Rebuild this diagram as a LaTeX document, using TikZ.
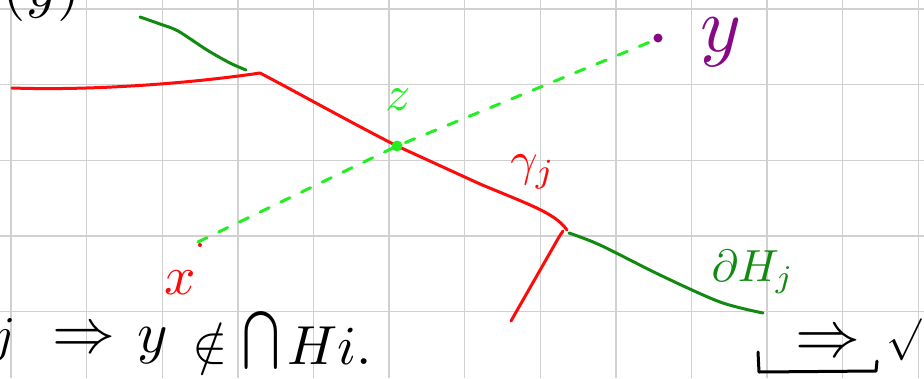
\documentclass[tikz,border=0pt]{standalone}
\usepackage{amssymb}
\definecolor{gridgray}{HTML}{D0D0D0}
\definecolor{inkred}{HTML}{FF0A0A}
\definecolor{inkgreen}{HTML}{128A12}
\definecolor{inklime}{HTML}{22EE22}
\definecolor{inkpurple}{HTML}{860A86}
\begin{document}
\begin{tikzpicture}[x=1pt,y=-1pt,
  gridline/.style={draw=gridgray,line width=1.4pt},
  ink/.style={line width=3pt,line cap=round,line join=round},
  lbl/.style={inner sep=0pt,outer sep=0pt}]
\useasboundingbox[fill=white] (0,0) rectangle (924,378);
% grid
\foreach \k in {0,...,12} \draw[gridline] (11+75.6*\k,0) -- (11+75.6*\k,378);
\foreach \k in {0,...,4} \draw[gridline] (0,9+75.6*\k) -- (924,9+75.6*\k);
% key points
\coordinate (rA) at (12,88);
\coordinate (rB) at (260,73);
\coordinate (zz) at (397,146);
\coordinate (rC) at (567,230);
\coordinate (rD) at (511,321);
\coordinate (gA) at (140,17);
\coordinate (gB) at (246,70);
\coordinate (gC) at (569,233);
\coordinate (gD) at (763,313);
\coordinate (xx) at (198,242);
\coordinate (yy) at (658,38);
% red curve gamma_j
\draw[ink,inkred] (rA) .. controls (100,91) and (200,82) .. (rB)
  .. controls (300,94) and (350,122) .. (zz)
  -- (480,184) .. controls (530,205) and (555,213) .. (rC);
\draw[ink,inkred] (rD) -- (559,237) -- (563,231);
% dark green boundary pieces
\draw[ink,inkgreen] plot[smooth] coordinates {(gA) (160,24) (178,31) (207,50) (230,63) (gB)};
\draw[ink,inkgreen] plot[smooth] coordinates {(gC) (600,245) (660,275) (720,302) (gD)};
% dashed segment x--y
\draw[ink,inklime,dash pattern=on 10pt off 13pt] (xx) -- (zz) -- (650,42);
\fill[inklime] (zz) circle (5.5);
\fill[inkpurple] (yy) circle (4.5);
\fill[inkred] (200,245) circle (2);
% labels
\node[lbl,inkred,scale=5.5] (lx) at (180,283) {$x$};
\node[lbl,inklime,scale=5] (lz) at (398,100) {$z$};
\node[lbl,inkpurple,scale=7.8] (ly) at (721,42) {$y$};
\node[lbl,inkred,scale=4.8] (lg) at (533,172) {$\gamma_j$};
\node[lbl,inkgreen,scale=4.5] (lh) at (753,272) {$\partial H_j$};
% top-left partial
\node[lbl,scale=6] (tl) at (42,-9) {$(y)$};
% bottom line
\node[lbl,scale=5] (bj) at (4,340) {$j$};
\node[lbl,scale=6.3] (b1) at (84,341) {$\Rightarrow$};
\node[lbl,scale=5.8] (b2) at (153,346) {$y$};
\node[lbl,scale=5.3] (b3) at (210,344) {$\notin$};
\node[lbl,xscale=4.5,yscale=5.8] (b4) at (261,340) {$\bigcap$};
\node[lbl,scale=5.5] (b5) at (330,346) {$Hi.$};
% bottom right
\node[lbl,scale=6.5] (b6) at (828,345) {$\Rightarrow$};
\draw[ink,black] (758,352) -- (759,372) -- (876,371) -- (877,361);
\node[lbl,scale=4.2] (b7) at (904,340) {$\surd$};
\end{tikzpicture}
\end{document}
